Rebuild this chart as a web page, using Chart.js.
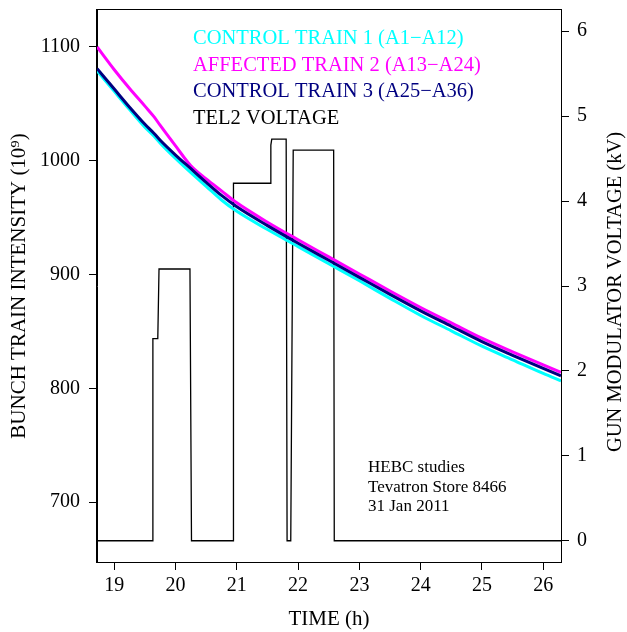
<!DOCTYPE html>
<html>
<head>
<meta charset="utf-8">
<script src="https://cdn.jsdelivr.net/npm/chart.js@4.4.1/dist/chart.umd.min.js"></script>
<style>
  html, body { margin: 0; padding: 0; background: #fff; }
  #wrap { width: 627px; height: 632px; }
</style>
</head>
<body>
<div id="wrap"><canvas id="hebc_chart" width="627" height="632"></canvas></div>
<script>
// bunch train intensities (10^9) vs time (h)
var times  = [18.72, 19.0, 19.25, 19.5, 19.65, 19.75, 20.0, 20.25, 20.5, 20.75, 21.0, 21.5, 22.0, 22.5, 23.0, 23.5, 24.0, 24.5, 25.0, 25.5, 26.0, 26.29];
var train1 = [1079, 1061, 1045, 1029.5, 1021.5, 1015.5, 1002, 989.5, 977.5, 965.5, 955.5, 939.5, 924.5, 909.5, 894.5, 879, 864, 850.5, 837, 825, 813, 806.5];
var train2 = [1100, 1080, 1063.5, 1048, 1038.5, 1031, 1013, 995.5, 984, 973.5, 963, 946, 930.5, 915.5, 900.5, 885.5, 871, 857.5, 844, 832, 820.5, 814];
var train3 = [1081, 1063, 1047, 1032, 1024, 1018, 1005, 993, 981, 969.5, 959.5, 943, 927.5, 912.5, 897.5, 882.5, 868, 854.5, 841, 829, 817.5, 811];

// TEL2 gun modulator voltage (kV)
var voltTimes = [18.72, 19.63, 19.63, 19.71, 19.73, 20.235, 20.26, 20.945, 20.945, 21.545, 21.555, 21.57, 21.805, 21.82, 21.88, 21.92, 22.58, 22.59, 26.29];
var voltKV    = [0, 0, 2.38, 2.38, 3.2, 3.2, 0, 0, 4.21, 4.21, 4.66, 4.73, 4.73, 0, 0, 4.6, 4.6, 0, 0];

// tick labels
var timeTicks = [19, 20, 21, 22, 23, 24, 25, 26];
var intensityTicks = [700, 800, 900, 1000, 1100];
var voltTicks = [0, 1, 2, 3, 4, 5, 6];

var noteLines = ["HEBC studies", "Tevatron Store 8466", "31 Jan 2011"];

function pts(xs, ys) {
    return xs.map(function (x, i) { return {x: x, y: ys[i]}; });
}

var serif = "'Liberation Serif', 'DejaVu Serif', serif";
Chart.defaults.font.family = serif;
Chart.defaults.font.size = 20;
Chart.defaults.color = '#000';

var extras = {
    id: 'extras',
    afterDraw: function (chart) {
        var ctx = chart.ctx, a = chart.chartArea;
        ctx.save();
        // box round the plot
        ctx.strokeStyle = '#000';
        ctx.lineWidth = 1;
        ctx.strokeRect(a.left - 0.5, a.top - 0.5, a.right - a.left + 1, a.bottom - a.top + 1);

        // legend, text only
        ctx.font = '20.5px ' + serif;
        ctx.textAlign = 'left';
        ctx.textBaseline = 'alphabetic';
        chart.data.datasets.forEach(function (ds, i) {
            ctx.fillStyle = ds.borderColor;
            ctx.fillText(ds.label, 193, 44 + i * 26.7);
        });

        // note
        ctx.font = '17px ' + serif;
        ctx.fillStyle = '#000';
        noteLines.forEach(function (s, i) {
            ctx.fillText(s, 368, 472 + i * 19.5);
        });

        // right axis title, reading upwards
        ctx.font = '20.5px ' + serif;
        ctx.translate(616, 292);
        ctx.rotate(-Math.PI / 2);
        ctx.textAlign = 'center';
        ctx.textBaseline = 'middle';
        ctx.fillText('GUN MODULATOR VOLTAGE (kV)', 0, 0);
        ctx.restore();
    }
};

function fixTicks(list) {
    return function (axis) {
        axis.ticks = list.map(function (v) { return {value: v}; });
    };
}

function fitBox(w, h) {
    return function (s) {
        if (w) s.width = w;
        if (h) s.height = h;
        s.paddingTop = 0;
        s.paddingBottom = 0;
        s.paddingLeft = 0;
        s.paddingRight = 0;
    };
}

function plain(v) { return String(v); }

new Chart(document.getElementById("hebc_chart").getContext("2d"), {
    type: 'line',
    data: {
        datasets: [{
            label: 'CONTROL TRAIN 1 (A1\u2212A12)',
            data: pts(times, train1),
            borderColor: '#00ffff',
            borderWidth: 3,
            pointRadius: 0,
            cubicInterpolationMode: 'monotone',
            yAxisID: 'y',
            order: 2
        }, {
            label: 'AFFECTED TRAIN 2 (A13\u2212A24)',
            data: pts(times, train2),
            borderColor: '#ff00ff',
            borderWidth: 3,
            pointRadius: 0,
            cubicInterpolationMode: 'monotone',
            yAxisID: 'y',
            order: 1
        }, {
            label: 'CONTROL TRAIN 3 (A25\u2212A36)',
            data: pts(times, train3),
            borderColor: '#000080',
            borderWidth: 3,
            pointRadius: 0,
            cubicInterpolationMode: 'monotone',
            yAxisID: 'y',
            order: 0
        }, {
            label: 'TEL2 VOLTAGE',
            data: pts(voltTimes, voltKV),
            borderColor: '#000000',
            borderWidth: 1.3,
            pointRadius: 0,
            tension: 0,
            yAxisID: 'y2',
            order: 3
        }]
    },
    options: {
        responsive: false,
        animation: false,
        layout: { padding: { top: 10, left: 0, right: 0, bottom: 0 } },
        plugins: {
            legend: { display: false },
            tooltip: { enabled: false }
        },
        scales: {
            x: {
                type: 'linear',
                min: 18.718,
                max: 26.29,
                afterBuildTicks: fixTicks(timeTicks),
                afterFit: fitBox(0, 70),
                ticks: { padding: 4, maxRotation: 0, callback: plain },
                grid: { drawOnChartArea: false, tickLength: 8, color: '#000' },
                border: { color: '#000', width: 1 },
                title: { display: true, text: 'TIME (h)', font: { size: 21 }, padding: { top: 0, bottom: 0 } }
            },
            y: {
                position: 'left',
                min: 647.3,
                max: 1132.5,
                afterBuildTicks: fixTicks(intensityTicks),
                afterFit: fitBox(97, 0),
                ticks: { padding: 9, callback: plain },
                grid: { drawOnChartArea: false, tickLength: 8, color: '#000' },
                border: { color: '#000', width: 1 },
                title: { display: true, text: 'BUNCH TRAIN INTENSITY (10\u2079)', font: { size: 21 }, padding: { top: 7, bottom: 0 } }
            },
            y2: {
                position: 'right',
                min: -0.25,
                max: 6.25,
                afterBuildTicks: fixTicks(voltTicks),
                afterFit: fitBox(66, 0),
                ticks: { padding: 8, callback: plain },
                grid: { drawOnChartArea: false, tickLength: 8, color: '#000' },
                border: { color: '#000', width: 1 }
            }
        }
    },
    plugins: [extras]
});
</script>
</body>
</html>
